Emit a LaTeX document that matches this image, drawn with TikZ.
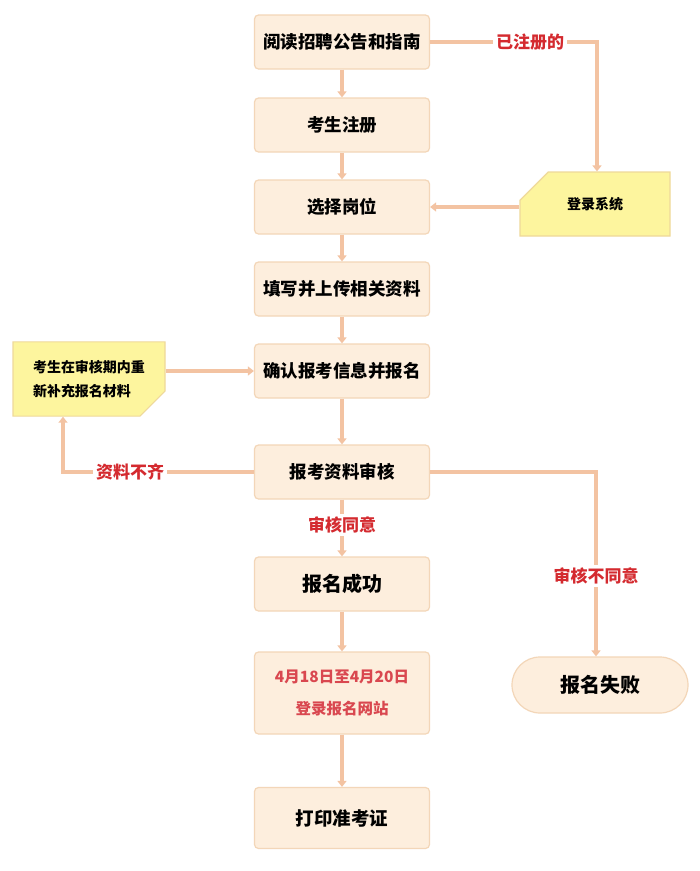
\documentclass[tikz,border=0pt]{standalone}
\usepackage{fontspec}
\setmainfont{Noto Sans CJK SC}
\usetikzlibrary{arrows.meta,shapes.misc,positioning}
\definecolor{boxfill}{HTML}{FDEEDD}
\definecolor{boxline}{HTML}{F3D6B8}
\definecolor{yfill}{HTML}{FDF59E}
\definecolor{yline}{HTML}{EFD99A}
\definecolor{arr}{HTML}{F3C3A2}
\definecolor{redtxt}{HTML}{D42A2F}
\definecolor{pinktxt}{HTML}{D9474F}
\begin{document}
\begin{tikzpicture}[x=1pt,y=-1pt,
  mainbox/.style={draw=boxline,line width=1.2pt,fill=boxfill,rounded corners=4pt,minimum width=175pt,minimum height=54pt,font=\fontsize{17.5}{20}\selectfont\bfseries,text=black,align=center},
  conn/.style={draw=arr,line width=3.5pt,-{Triangle[width=9pt,length=6pt]}},
  lbl/.style={fill=white,text=redtxt,font=\fontsize{17}{18}\selectfont\bfseries,inner sep=3pt},
  ybox/.style={draw=yline,line width=1.2pt,fill=yfill,chamfered rectangle,font=\fontsize{14}{24}\selectfont\bfseries,align=left}
]
\useasboundingbox (0,0) rectangle (700,871);
\fill[white] (0,0) rectangle (700,871);

\node[mainbox] (b1) at (342,42) {阅读招聘公告和指南};
\node[mainbox] (b2) at (342,125) {考生注册};
\node[mainbox] (b3) at (342,207) {选择岗位};
\node[mainbox] (b4) at (342,289) {填写并上传相关资料};
\node[mainbox] (b5) at (342,371) {确认报考信息并报名};
\node[mainbox] (b6) at (342,472) {报考资料审核};
\node[mainbox,font=\fontsize{20}{22}\selectfont\bfseries] (b7) at (342,584) {报名成功};
\node[mainbox,minimum height=82pt,text=pinktxt,font=\fontsize{15.5}{32}\selectfont\bfseries] (b8) at (342,693) {4月18日至4月20日\\登录报名网站};
\node[mainbox,minimum height=61pt,font=\fontsize{18.5}{22}\selectfont\bfseries] (b9) at (342,818) {打印准考证};

\node[ybox,chamfered rectangle corners=north west,chamfered rectangle xsep=14pt,chamfered rectangle ysep=18pt,minimum width=150pt,minimum height=64pt,inner xsep=4pt] (login) at (595,204) {登录系统};
\node[ybox,chamfered rectangle corners=south east,chamfered rectangle xsep=10pt,chamfered rectangle ysep=15pt,minimum width=152pt,minimum height=62pt,inner xsep=6pt] (supp) at (89,379) {考生在审核期内重\\新补充报名材料};

\node[draw=boxline,line width=1.2pt,fill=boxfill,rounded corners=28pt,minimum width=176pt,minimum height=56pt,font=\fontsize{20}{22}\selectfont\bfseries] (fail) at (600,685) {报名失败};

\draw[conn] (b1) -- (b2);
\draw[conn] (b2) -- (b3);
\draw[conn] (b3) -- (b4);
\draw[conn] (b4) -- (b5);
\draw[conn] (b5) -- (b6);
\draw[conn] (b6) -- node[lbl,pos=0.45]{审核同意} (b7);
\draw[conn] (b7) -- (b8);
\draw[conn] (b8) -- (b9);

\coordinate (c1) at (597,42);
\draw[conn] (b1.east) -- (c1) -- (login.north -| c1);
\node[lbl] at (530,42) {已注册的};
\draw[conn] (login.west |- b3) -- (b3.east);
\draw[conn] (supp.east |- b5) -- (b5.west);

\coordinate (c2) at (63,472);
\draw[conn] (b6.west) -- (c2) -- (supp.south -| c2);
\node[lbl] at (130,472) {资料不齐};

\coordinate (c3) at (596,472);
\draw[conn] (b6.east) -- (c3) -- (fail.north -| c3);
\node[lbl] at (596,576) {审核不同意};
\end{tikzpicture}
\end{document}
